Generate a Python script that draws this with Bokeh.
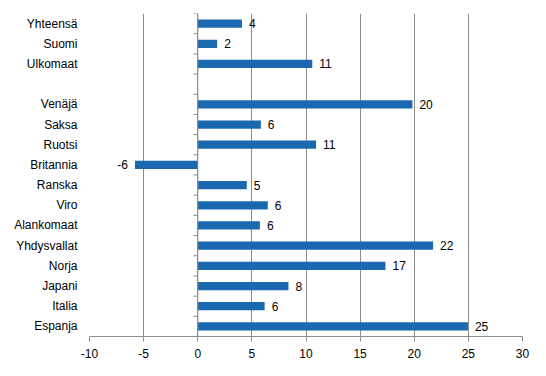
from bokeh.plotting import figure
from bokeh.models import Range1d, FixedTicker, ColumnDataSource, Span
from bokeh.embed import file_html
from bokeh.resources import INLINE
from bokeh.core.properties import value

categories = ["Yhteensä", "Suomi", "Ulkomaat", "", "Venäjä", "Saksa", "Ruotsi",
              "Britannia", "Ranska", "Viro", "Alankomaat", "Yhdysvallat",
              "Norja", "Japani", "Italia", "Espanja"]
values = [4.08, 1.79, 10.58, None, 19.83, 5.83, 10.93, -5.80, 4.53, 6.47,
          5.74, 21.74, 17.34, 8.38, 6.18, 24.96]
x_ticks = [-10, -5, 0, 5, 10, 15, 20, 25, 30]

FONT = "Liberation Sans"
FS = "12px"
BAR = "#1a69b0"
GRID = "#8c8c8c"

n = len(categories)
ys = [i for i, v in enumerate(values) if v is not None]
vs = [v for v in values if v is not None]
labels = [str(int(round(v))) for v in vs]

p = figure(width=546, height=376, output_backend="svg", toolbar_location=None,
           x_range=Range1d(x_ticks[0], x_ticks[-1]),
           y_range=Range1d(n - 0.5, -0.5),
           min_border_left=89, min_border_right=24, min_border_top=13,
           min_border_bottom=40)
p.outline_line_color = None
p.background_fill_color = "white"
p.border_fill_color = "white"

# grid
p.ygrid.grid_line_color = None
p.xgrid.ticker = FixedTicker(ticks=x_ticks)
p.xgrid.grid_line_color = GRID
p.xgrid.grid_line_width = 1

# x axis
p.xaxis.ticker = FixedTicker(ticks=x_ticks)
p.xaxis.major_label_overrides = {t: str(t) for t in x_ticks}
p.xaxis.axis_line_color = GRID
p.xaxis.major_tick_line_color = GRID
p.xaxis.major_tick_out = 5
p.xaxis.major_tick_in = 0
p.xaxis.minor_tick_line_color = None
p.xaxis.major_label_standoff = 7
p.xaxis.major_label_text_font = FONT
p.xaxis.major_label_text_font_size = FS
p.xaxis.major_label_text_color = "black"

# y axis (labels only)
p.yaxis.ticker = FixedTicker(ticks=list(range(n)))
p.yaxis.major_label_overrides = {i: c for i, c in enumerate(categories)}
p.yaxis.axis_line_color = None
p.yaxis.major_tick_line_color = None
p.yaxis.major_tick_out = 0
p.yaxis.major_tick_in = 0
p.yaxis.minor_tick_line_color = None
p.yaxis.minor_tick_out = 0
p.yaxis.major_label_standoff = 12
p.yaxis.major_label_text_font = FONT
p.yaxis.major_label_text_font_size = FS
p.yaxis.major_label_text_color = "black"

# vertical axis line at zero with category-boundary ticks
p.add_layout(Span(location=0, dimension="height", line_color=GRID, line_width=1))
bounds = [i - 0.5 for i in range(n + 1)]
p.segment(x0=[-0.4] * len(bounds), x1=[0] * len(bounds), y0=bounds, y1=bounds,
          line_color=GRID, line_width=1)

src = ColumnDataSource(dict(y=ys, v=vs, lab=labels))
p.hbar(y="y", left=0, right="v", height=0.41, source=src,
       fill_color=BAR, line_color=None)

pos = ColumnDataSource(dict(y=[y for y, v in zip(ys, vs) if v >= 0],
                            v=[v for v in vs if v >= 0],
                            lab=[l for l, v in zip(labels, vs) if v >= 0]))
neg = ColumnDataSource(dict(y=[y for y, v in zip(ys, vs) if v < 0],
                            v=[v for v in vs if v < 0],
                            lab=[l for l, v in zip(labels, vs) if v < 0]))
p.text(x="v", y="y", text="lab", source=pos, x_offset=7, text_align="left",
       text_baseline="middle", text_font=value(FONT), text_font_size=FS,
       text_color="black")
p.text(x="v", y="y", text="lab", source=neg, x_offset=-7, text_align="right",
       text_baseline="middle", text_font=value(FONT), text_font_size=FS,
       text_color="black")

open("out.html", "w").write(file_html(p, INLINE))
